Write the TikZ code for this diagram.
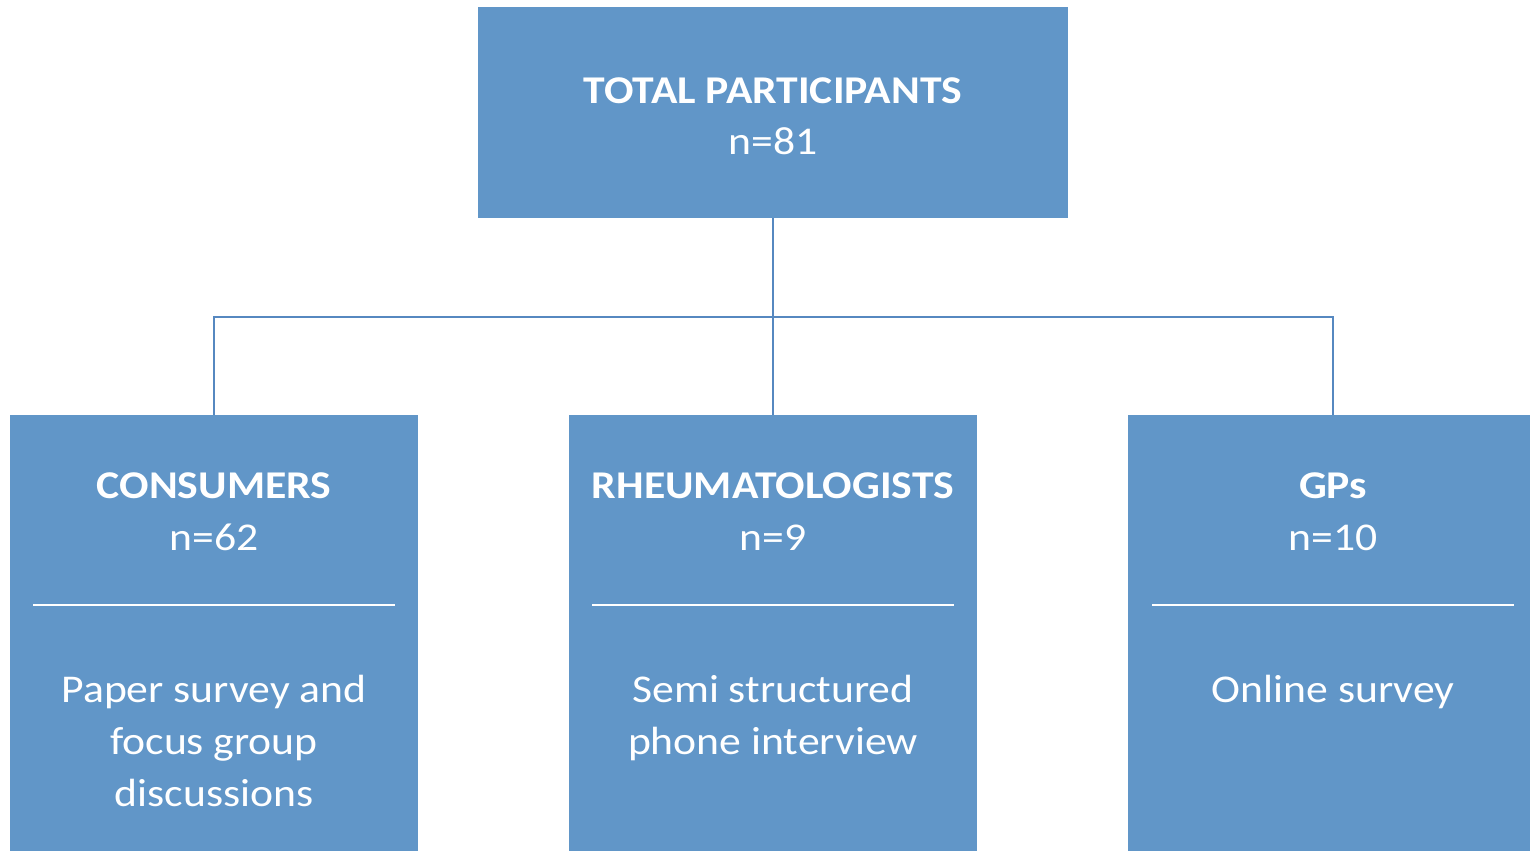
\documentclass[tikz,border=0pt]{standalone}
\usepackage{fontspec}
\setmainfont[FakeStretch=1.11]{Carlito}
\definecolor{boxblue}{RGB}{97,150,200}
\definecolor{lineblue}{RGB}{86,136,192}
\tikzset{
  box/.style={fill=boxblue, draw=none, inner sep=0pt},
  label/.style={text=white, align=center, inner sep=0pt, font=\fontsize{29.5}{39}\selectfont},
  link/.style={draw=lineblue, line width=1.5pt},
  sep/.style={draw=white, line width=1.5pt}
}
\begin{document}
\begin{tikzpicture}[x=0.75pt, y=-0.75pt]
  \useasboundingbox (0,0) rectangle (1530,851);
  % boxes
  \node[box, minimum width=590*0.75pt, minimum height=211*0.75pt] (top) at (773,112.5) {};
  \node[box, minimum width=408*0.75pt, minimum height=436*0.75pt] (consumers) at (214,633) {};
  \node[box, minimum width=408*0.75pt, minimum height=436*0.75pt] (rheum) at (773,633) {};
  \node[box, minimum width=410*0.75pt, minimum height=436*0.75pt] (gps) at (1333,633) {};
  % connectors
  \coordinate (bus) at (773,317);
  \draw[link] (top.south) -- (rheum.north);
  \draw[link] (bus) -| (consumers.north);
  \draw[link] (bus) -| (gps.north);
  % texts
  \node[label, anchor=base] (toptitle) at (773,103) {\bfseries TOTAL PARTICIPANTS};
  \node[label, anchor=base] (topn) at (773,154) {n=81};
  \node[label, anchor=base] (constitle) at (214,498) {\bfseries CONSUMERS};
  \node[label, anchor=base] (consn) at (214,550) {n=62};
  \node[label, anchor=base] (rheumtitle) at (773,498) {\bfseries RHEUMATOLOGISTS};
  \node[label, anchor=base] (rheumn) at (773,550) {n=9};
  \node[label, anchor=base] (gpstitle) at (1333,498) {\bfseries GPs};
  \node[label, anchor=base] (gpsn) at (1333,550) {n=10};
  \foreach \x in {214,773,1333}
    \draw[sep] (\x-181,605) -- (\x+181,605);
  \node[label, anchor=north] (consdesc) at (214,675) {Paper survey and\\ focus group\\ discussions};
  \node[label, anchor=north] (rheumdesc) at (773,675) {Semi structured\\ phone interview};
  \node[label, anchor=north] (gpsdesc) at (1333,675) {Online survey};
\end{tikzpicture}
\end{document}
